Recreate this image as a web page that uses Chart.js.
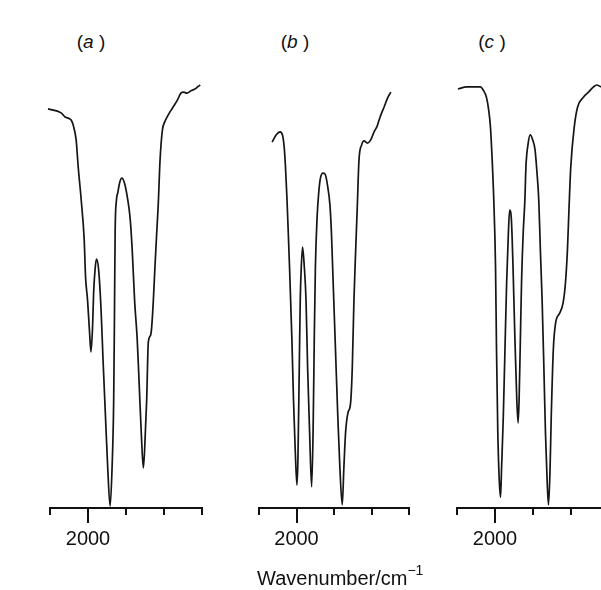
<!DOCTYPE html>
<html>
<head>
<meta charset="utf-8">
<script src="https://cdn.jsdelivr.net/npm/chart.js@4.4.1/dist/chart.umd.min.js"></script>
<style>
    body { margin: 0; width: 601px; height: 590px; overflow: hidden; background: #fff;
           font-family: "Liberation Sans", Arial, sans-serif; color: #111; position: relative; }
    canvas { position: absolute; top: 0; }
    .panel-title { position: absolute; top: 31px; font-size: 19px; width: 60px; text-align: center; }
    #x-title { position: absolute; left: 257px; top: 564px; font-size: 20px; white-space: nowrap; }
    #x-title sup { font-size: 14px; position: relative; top: -2px; }
</style>
</head>
<body>
<div class="panel-title" style="left:61px">(<i>a</i> )</div>
<div class="panel-title" style="left:265px">(<i>b</i> )</div>
<div class="panel-title" style="left:462px">(<i>c</i> )</div>

<canvas id="chart-a" width="215" height="590" style="left:0px"></canvas>
<canvas id="chart-b" width="220" height="590" style="left:200px"></canvas>
<canvas id="chart-c" width="220" height="590" style="left:400px"></canvas>

<div id="x-title">Wavenumber/cm<sup>&minus;1</sup></div>

<script>
const tickValues = [2050, 2000, 1950, 1900, 1850];
const labelledTick = 2000;

// (a)
const wavenumberA = [2052.6, 2035.4, 2030.1, 2022.2, 2019.5, 2015.6, 2012.9, 2008.9, 2005.0, 2003.2,
    2000.6, 1997.9, 1996.1, 1994.0, 1992.6, 1990.4, 1988.7, 1986.0, 1982.8, 1980.2,
    1977.2, 1974.1, 1970.9, 1968.3, 1966.2, 1965.2, 1964.3, 1962.6, 1960.9, 1958.2,
    1955.6, 1952.0, 1947.6, 1945.0, 1943.4, 1941.8, 1938.7, 1935.2, 1932.5, 1929.9,
    1927.2, 1925.5, 1922.8, 1920.6, 1917.6, 1916.2, 1914.0, 1911.9, 1909.6, 1907.6,
    1905.2, 1902.1, 1899.0, 1894.6, 1888.8, 1882.2, 1877.8, 1874.2, 1869.9, 1864.6,
    1859.3, 1855.7, 1852.3];
const transA = [88.7, 87.8, 86.9, 86.2, 85.1, 81.8, 75.8, 68.4, 59.6, 51.3,
    46.2, 38.9, 34.7, 40.2, 47.8, 53.6, 55.3, 52.9, 44.0, 32.9,
    21.1, 9.1, 0.4, 9.1, 24.0, 42.4, 61.1, 68.4, 70.0, 72.4,
    73.3, 72.2, 68.4, 65.1, 61.8, 57.3, 46.2, 37.3, 26.9, 16.7,
    8.9, 12.9, 24.0, 36.9, 38.4, 40.2, 46.2, 53.6, 61.1, 67.3,
    77.3, 84.0, 85.8, 87.3, 88.9, 90.7, 92.2, 92.4, 92.2, 92.7,
    93.1, 93.6, 94.0];

// (b)
const wavenumberB = [2032.5, 2027.2, 2021.8, 2018.7, 2016.4, 2014.7, 2012.8, 2011.1, 2009.3, 2006.1,
    2004.0, 2001.7, 1999.4, 1998.1, 1996.3, 1995.0, 1993.6, 1991.9, 1989.6, 1987.3,
    1985.2, 1982.5, 1979.8, 1977.9, 1976.2, 1974.8, 1972.5, 1970.4, 1968.1, 1964.5,
    1961.4, 1958.3, 1955.4, 1953.4, 1951.1, 1948.0, 1944.9, 1942.2, 1939.0, 1936.8,
    1934.6, 1931.5, 1927.9, 1925.6, 1923.4, 1921.1, 1919.1, 1916.7, 1913.1, 1910.0,
    1905.4, 1901.0, 1896.6, 1892.9, 1889.9, 1887.6, 1883.2, 1878.6, 1874.2];
const transB = [81.3, 82.9, 83.6, 82.9, 80.2, 75.8, 69.1, 61.8, 53.6, 37.3,
    24.0, 12.9, 5.1, 10.7, 31.3, 46.2, 53.6, 58.0, 53.6, 46.2,
    31.3, 16.7, 4.7, 16.7, 38.9, 53.6, 64.7, 70.0, 73.3, 74.4,
    74.0, 71.3, 67.3, 61.1, 50.0, 35.1, 20.2, 9.1, 0.7, 9.1,
    16.7, 21.1, 23.3, 31.3, 46.2, 57.3, 66.2, 77.3, 80.7, 81.6,
    81.1, 81.8, 83.6, 84.7, 86.2, 87.3, 89.1, 91.1, 92.4];

// (c)
const wavenumberC = [2048.7, 2037.1, 2028.3, 2019.3, 2014.9, 2011.3, 2008.3, 2006.0, 2003.7, 2001.6,
    1999.3, 1998.0, 1996.3, 1994.4, 1992.7, 1991.3, 1989.1, 1986.9, 1984.7, 1982.4,
    1980.7, 1978.4, 1976.3, 1974.0, 1971.3, 1969.6, 1968.3, 1966.9, 1965.1, 1962.9,
    1960.7, 1959.3, 1956.3, 1953.6, 1950.4, 1947.3, 1944.7, 1942.4, 1940.3, 1938.0,
    1935.7, 1933.6, 1931.3, 1929.6, 1927.7, 1926.0, 1923.3, 1920.3, 1914.9, 1910.4,
    1907.3, 1904.7, 1902.7, 1900.3, 1895.7, 1891.3, 1883.7, 1877.1, 1870.4, 1866.0,
    1860.3, 1855.0];
const transC = [93.1, 93.6, 93.6, 93.6, 92.7, 91.3, 88.4, 84.7, 77.3, 68.4,
    53.6, 35.1, 16.7, 6.2, 2.4, 9.1, 20.2, 35.1, 50.0, 61.1,
    66.2, 64.0, 53.6, 38.9, 24.0, 18.9, 24.0, 35.1, 50.0, 61.1,
    68.4, 75.8, 81.1, 82.9, 81.8, 79.6, 74.4, 68.4, 57.3, 46.2,
    31.3, 16.7, 5.6, 0.7, 7.8, 20.2, 35.1, 41.1, 43.3, 45.6,
    50.0, 57.3, 66.2, 75.8, 84.7, 89.1, 91.3, 92.4, 93.6, 94.0,
    93.6, 93.8];

// tick marks under the axis, long one at the labelled wavenumber
const axisTicks = {
    id: 'axisTicks',
    afterDraw(chart) {
        const scale = chart.scales.x;
        const ctx = chart.ctx;
        ctx.save();
        ctx.strokeStyle = '#111';
        ctx.lineWidth = 2;
        tickValues.forEach(v => {
            const px = Math.round(scale.getPixelForValue(v));
            const len = v === labelledTick ? 15 : 7;
            ctx.beginPath();
            ctx.moveTo(px, scale.top);
            ctx.lineTo(px, scale.top + len);
            ctx.stroke();
        });
        ctx.restore();
    }
};

function makeSpectrum(canvasId, xs, ys, padLeft, padRight) {
    const points = xs.map((x, i) => ({ x: x, y: ys[i] }));
    return new Chart(document.getElementById(canvasId), {
        type: 'line',
        data: {
            datasets: [{
                data: points,
                borderColor: '#151515',
                borderWidth: 1.7,
                pointRadius: 0,
                fill: false,
                clip: false,
                cubicInterpolationMode: 'monotone'
            }]
        },
        options: {
            responsive: false,
            animation: false,
            layout: { padding: { left: padLeft, right: padRight, top: 58, bottom: 28 } },
            plugins: { legend: { display: false }, tooltip: { enabled: false } },
            scales: {
                x: {
                    type: 'linear',
                    reverse: true,
                    min: 1850,
                    max: 2050,
                    grid: { display: false },
                    border: { display: true, color: '#111', width: 2 },
                    ticks: {
                        stepSize: 50,
                        padding: 11,
                        autoSkip: false,
                        color: '#111',
                        font: { family: '"Liberation Sans", Arial, sans-serif', size: 20 },
                        maxRotation: 0,
                        callback: v => v === labelledTick ? String(v) : ''
                    }
                },
                y: { display: false, min: 0, max: 100 }
            }
        },
        plugins: [axisTicks]
    });
}

makeSpectrum('chart-a', wavenumberA, transA, 50, 13);
makeSpectrum('chart-b', wavenumberB, transB, 59, 6);
makeSpectrum('chart-c', wavenumberC, transC, 57, 7);
</script>
</body>
</html>
